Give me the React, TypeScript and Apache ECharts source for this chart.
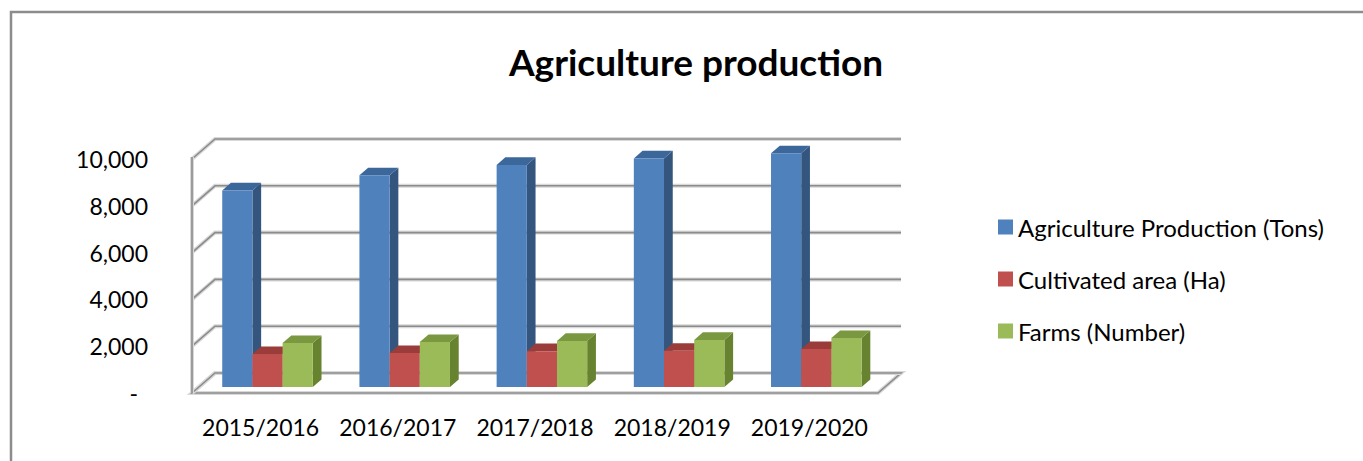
import React, { useEffect, useRef } from "react";
import * as echarts from "echarts";

const categories = ["2015/2016", "2016/2017", "2017/2018", "2018/2019", "2019/2020"];
const seriesNames = ["Agriculture Production (Tons)", "Cultivated area (Ha)", "Farms (Number)"];
const production = [8400, 9050, 9490, 9770, 9990];
const area = [1410, 1450, 1530, 1550, 1620];
const farms = [1880, 1920, 1970, 2010, 2090];
const yTicks = [0, 2000, 4000, 6000, 8000, 10000];

const frontColors = ["#4F81BD", "#C0504D", "#9BBB59"];
const sideColors = ["#34557E", "#8A3634", "#68832F"];
const topColors = ["#3C679B", "#9A3D3A", "#7A9840"];

const DX = 23;
const DY = -20;
const F0 = 0.3;
const F1 = 0.68;

export default function App() {
  const ref = useRef<HTMLDivElement>(null);
  useEffect(() => {
    if (!ref.current) return;
    const chart = echarts.init(ref.current, null, { renderer: "svg" });
    const font = "Lato";
    const seriesData = [production, area, farms];

    const barSeries = seriesData.map((vals, k) => ({
      type: "custom",
      name: seriesNames[k],
      clip: false,
      itemStyle: { color: frontColors[k] },
      data: vals.map((v, i) => [i, v]),
      z: 3,
      renderItem: (params: any, api: any) => {
        const ci = api.value(0);
        const v = api.value(1);
        const base = api.coord([ci, 0]);
        const top = api.coord([ci, v]);
        const band = api.size([1, 0])[0];
        const bw = band * 0.22;
        const x0 = base[0] - 1.5 * bw + k * bw + F0 * DX;
        const yb = base[1] + F0 * DY;
        const yt = top[1] + F0 * DY;
        const ddx = (F1 - F0) * DX;
        const ddy = (F1 - F0) * DY;
        return {
          type: "group",
          children: [
            {
              type: "polygon",
              shape: { points: [[x0 + bw, yt], [x0 + bw + ddx, yt + ddy], [x0 + bw + ddx, yb + ddy], [x0 + bw, yb]] },
              style: { fill: sideColors[k] },
            },
            {
              type: "polygon",
              shape: { points: [[x0, yt], [x0 + ddx, yt + ddy], [x0 + bw + ddx, yt + ddy], [x0 + bw, yt]] },
              style: { fill: topColors[k] },
            },
            {
              type: "rect",
              shape: { x: x0, y: yt, width: bw, height: yb - yt },
              style: { fill: frontColors[k] },
            },
          ],
        };
      },
    }));

    const wallSeries = {
      type: "custom",
      name: "walls",
      silent: true,
      clip: false,
      z: 1,
      data: yTicks.map((t) => [0, t]),
      renderItem: (params: any, api: any) => {
        const v = api.value(1);
        const cs = params.coordSys;
        const left = cs.x;
        const right = cs.x + cs.width;
        const y = api.coord([0, v])[1];
        const pts = [[left, y], [left + DX, y + DY], [right + DX, y + DY]];
        const children: any[] = [];
        if (v === 0) {
          const floor = [[left, y], [right, y], [right + DX, y + DY], [left + DX, y + DY]];
          children.push({ type: "polygon", shape: { points: floor }, style: { fill: "#ffffff", stroke: "#d8d8d8", lineWidth: 4 } });
          children.push({ type: "polygon", shape: { points: floor }, style: { fill: "none", stroke: "#8c8c8c", lineWidth: 1.6 } });
        }
        children.push({ type: "polyline", shape: { points: pts }, style: { fill: "none", stroke: "#d8d8d8", lineWidth: 4 } });
        children.push({ type: "polyline", shape: { points: pts }, style: { fill: "none", stroke: "#8c8c8c", lineWidth: 1.6 } });
        if (v === yTicks[yTicks.length - 1]) {
          const y0 = api.coord([0, 0])[1];
          children.push({ type: "line", shape: { x1: left, y1: y - 2, x2: left, y2: y0 }, style: { stroke: "#d8d8d8", lineWidth: 4 } });
          children.push({ type: "line", shape: { x1: left, y1: y - 2, x2: left, y2: y0 }, style: { stroke: "#8c8c8c", lineWidth: 1.6 } });
        }
        return { type: "group", children };
      },
    };

    chart.setOption({
      animation: false,
      backgroundColor: "#ffffff",
      title: {
        text: "Agriculture production",
        left: 691,
        top: 38,
        textAlign: "center",
        textStyle: { fontFamily: font, fontWeight: "bold", fontSize: 37, color: "#000000" },
      },
      legend: {
        orient: "vertical",
        left: 993,
        top: 210,
        itemWidth: 15,
        itemHeight: 15,
        itemGap: 28,
        icon: "rect",
        data: seriesNames,
        textStyle: { fontFamily: font, fontSize: 24, color: "#000000", lineHeight: 24, padding: [0, 0, 0, 0] },
      },
      grid: { left: 192, right: 485, top: 159, bottom: 68 },
      xAxis: {
        type: "category",
        data: categories,
        axisLine: { show: false },
        axisTick: { show: false },
        axisLabel: { interval: 0, fontFamily: font, fontSize: 23, color: "#000000", margin: 22 },
      },
      yAxis: {
        type: "value",
        min: 0,
        max: 10000,
        interval: 2000,
        axisLine: { show: false },
        axisTick: { show: false },
        splitLine: { show: false },
        axisLabel: {
          fontFamily: font,
          fontSize: 23,
          color: "#000000",
          margin: 44,
          formatter: (v: number) => (v === 0 ? "{d|-}" : v.toLocaleString("en-US")),
          rich: { d: { fontFamily: font, fontSize: 23, color: "#000000", padding: [0, 10, 0, 0] } },
        },
      },
      graphic: [
        {
          type: "polyline",
          shape: { points: [[11, 461], [11, 12], [1363, 12]] },
          style: { fill: "none", stroke: "#8c8c8c", lineWidth: 2.5 },
        },
      ],
      series: [wallSeries, ...barSeries],
    });
    return () => chart.dispose();
  }, []);
  return <div ref={ref} style={{ position: "fixed", left: 0, top: 0, width: 1363, height: 461 }} />;
}
